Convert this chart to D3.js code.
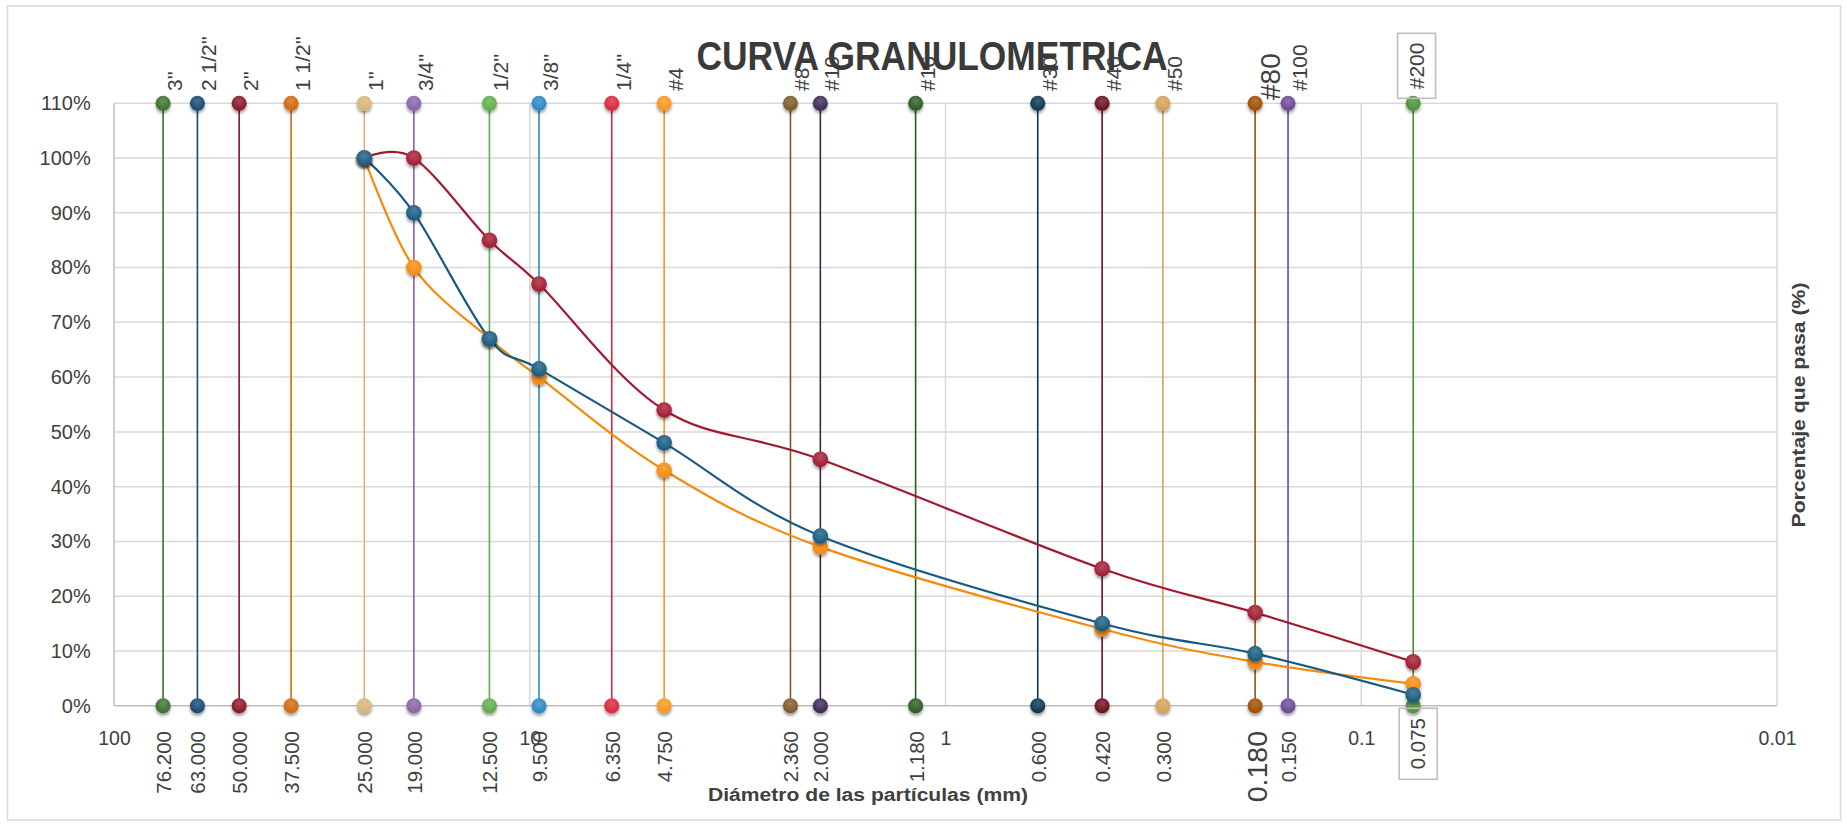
<!DOCTYPE html>
<html>
<head>
<meta charset="utf-8">
<script src="https://cdn.jsdelivr.net/npm/d3@7"></script>
<style>
  body { margin: 0; background: #fff; }
  svg { display: block; }
</style>
</head>
<body>
<svg id="chart" width="1847" height="825"></svg>
<script>
// ---------- DATA ----------
const sieveNames = ["3''", "2 1/2''", "2''", "1 1/2''", "1''", "3/4''", "1/2''", "3/8''", "1/4''", "#4", "#8", "#10", "#16", "#30", "#40", "#50", "#80", "#100", "#200"];
const sieveSizes = [76.2, 63.0, 50.0, 37.5, 25.0, 19.0, 12.5, 9.5, 6.35, 4.75, 2.36, 2.0, 1.18, 0.6, 0.42, 0.3, 0.18, 0.15, 0.075];
const sieveColors = ["#3e6f2e", "#164a70", "#8a1526", "#d0680c", "#d8b47a", "#8862a8", "#5dae4b", "#2b86c4", "#d9263e", "#f7961f", "#7b5a25", "#3b2953", "#2d5a23", "#0d3451", "#6d101d", "#d4a257", "#a04e06", "#6b4a95", "#4a9339"];
const xTickValues = [100, 10, 1, 0.1, 0.01];
const yTickValues = [0, 10, 20, 30, 40, 50, 60, 70, 80, 90, 100, 110];

const seriesSizes = [25.0, 19.0, 12.5, 9.5, 4.75, 2.0, 0.42, 0.18, 0.075];
const redValues = [100, 100, 85, 77, 54, 45, 25, 17, 8];
const orangeValues = [100, 80, 67, 60, 43, 29, 14, 8, 4];
const blueValues = [100, 90, 67, 61.5, 48, 31, 15, 9.5, 2];

const titleText = "CURVA GRANULOMETRICA";
const xTitle = "Diámetro de las partículas (mm)";
const yTitle = "Porcentaje que pasa (%)";

// ---------- LAYOUT ----------
const pLeft = 114, pRight = 1777, pTop = 103.3, pBottom = 705.7;
const svg = d3.select("#chart");
const x = d3.scaleLog().domain([100, 0.01]).range([pLeft, pRight]);
const y = d3.scaleLinear().domain([0, 110]).range([pBottom, pTop]);

const defs = svg.append("defs");
const f = defs.append("filter").attr("id", "sh").attr("x", "-50%").attr("y", "-50%").attr("width", "200%").attr("height", "220%");
f.append("feDropShadow").attr("dx", 0).attr("dy", 2.5).attr("stdDeviation", 1.8)
  .attr("flood-color", "#000").attr("flood-opacity", 0.4);
const g = defs.append("radialGradient").attr("id", "hl").attr("cx", "50%").attr("cy", "35%").attr("r", "60%");
g.append("stop").attr("offset", "0%").attr("stop-color", "#fff").attr("stop-opacity", 0.22);
g.append("stop").attr("offset", "100%").attr("stop-color", "#fff").attr("stop-opacity", 0);

// outer border
svg.append("rect").attr("x", 7.5).attr("y", 6).attr("width", 1833).attr("height", 814)
  .attr("fill", "#fff").attr("stroke", "#d9d9d9").attr("stroke-width", 1.5);

// gridlines
svg.append("g").selectAll("line").data(yTickValues.filter(d => d > 0)).join("line")
  .attr("x1", pLeft).attr("x2", pRight).attr("y1", d => y(d)).attr("y2", d => y(d))
  .attr("stroke", "#d9d9d9").attr("stroke-width", 1.5);
svg.append("g").selectAll("line").data(xTickValues.filter(d => d < 100)).join("line")
  .attr("x1", d => x(d)).attr("x2", d => x(d)).attr("y1", pTop).attr("y2", pBottom)
  .attr("stroke", "#d9d9d9").attr("stroke-width", 1.5);

// axis lines
svg.append("line").attr("x1", pLeft).attr("x2", pLeft).attr("y1", pTop).attr("y2", pBottom)
  .attr("stroke", "#bfbfbf").attr("stroke-width", 1.5);
svg.append("line").attr("x1", pLeft).attr("x2", pRight).attr("y1", pBottom).attr("y2", pBottom)
  .attr("stroke", "#bfbfbf").attr("stroke-width", 1.5);

// y axis labels
const yAxis = svg.append("g").attr("transform", `translate(${pLeft},0)`)
  .call(d3.axisLeft(y).tickValues(yTickValues).tickFormat(d => d + "%").tickSize(0).tickPadding(23.3));
yAxis.select(".domain").remove();
yAxis.selectAll("text").attr("font-family", "Liberation Sans, Arial, sans-serif").attr("font-size", 20).attr("fill", "#404040");

// x axis labels
const xAxis = svg.append("g").attr("transform", `translate(0,${pBottom})`)
  .call(d3.axisBottom(x).tickValues(xTickValues).tickFormat(d => d3.format("~g")(d)).tickSize(0).tickPadding(25.5));
xAxis.select(".domain").remove();
xAxis.selectAll("text").attr("font-family", "Liberation Sans, Arial, sans-serif").attr("font-size", 19.5).attr("fill", "#404040");

// sieve vertical lines
const sieves = sieveSizes.map((s, i) => ({ s, name: sieveNames[i], color: sieveColors[i], i }));
const sg = svg.append("g");
sg.selectAll("line").data(sieves).join("line")
  .attr("x1", d => x(d.s)).attr("x2", d => x(d.s)).attr("y1", y(110)).attr("y2", y(0))
  .attr("stroke", d => d.color).attr("stroke-width", 1.6);
[0, 110].forEach(v => {
  const dg = sg.append("g");
  dg.selectAll("circle.m").data(sieves).join("circle").attr("class", "m")
    .attr("cx", d => x(d.s)).attr("cy", y(v)).attr("r", 7.5)
    .attr("fill", d => d.color).attr("filter", "url(#sh)");
  dg.selectAll("circle.h").data(sieves).join("circle").attr("class", "h")
    .attr("cx", d => x(d.s)).attr("cy", y(v)).attr("r", 7.5).attr("fill", "url(#hl)");
});

// top labels (sieve names)
const lblFont = "Liberation Sans, Arial, sans-serif";
const last = sieves.length - 1;
const big = 16;
sieves.forEach(d => {
  const cx = x(d.s);
  if (d.i === last) {
    svg.append("text").attr("font-family", lblFont).attr("font-size", 21).attr("fill", "#404040")
      .attr("text-anchor", "start").attr("dominant-baseline", "central")
      .attr("transform", `translate(${cx + 3.4},89.3) rotate(-90)`).text(d.name);
    svg.append("rect").attr("x", cx - 15.6).attr("y", 33.3).attr("width", 38).attr("height", 65)
      .attr("fill", "none").attr("stroke", "#bfbfbf").attr("stroke-width", 1.6);
  } else {
    const fs = d.i === big ? 28 : 21;
    svg.append("text").attr("font-family", lblFont).attr("font-size", fs).attr("fill", "#404040")
      .attr("text-anchor", "start").attr("dominant-baseline", "central")
      .attr("transform", `translate(${cx + (d.i === big ? 15 : 11.5)},${d.i === big ? 100 : 91}) rotate(-90)`).text(d.name);
  }
});

// bottom labels (sizes)
sieves.forEach(d => {
  const cx = x(d.s);
  if (d.i === last) {
    svg.append("text").attr("font-family", lblFont).attr("font-size", 20.5).attr("fill", "#404040")
      .attr("text-anchor", "end").attr("dominant-baseline", "central")
      .attr("transform", `translate(${cx + 4.5},718) rotate(-90)`).text(d.s.toFixed(3));
    svg.append("rect").attr("x", cx - 14).attr("y", 708.3).attr("width", 38).attr("height", 71)
      .attr("fill", "none").attr("stroke", "#bfbfbf").attr("stroke-width", 1.6);
  } else {
    const fs = d.i === big ? 28.5 : 20.5;
    svg.append("text").attr("font-family", lblFont).attr("font-size", fs).attr("fill", "#404040")
      .attr("text-anchor", "end").attr("dominant-baseline", "central")
      .attr("transform", `translate(${cx + (d.i === big ? 1.5 : 0.5)},731) rotate(-90)`).text(d.s.toFixed(3));
  }
});

// data series
const line = d3.line().x(d => x(d[0])).y(d => y(d[1])).curve(d3.curveCatmullRom.alpha(0));
const seriesList = [
  { vals: redValues, color: "#a21a31" },
  { vals: orangeValues, color: "#f58a0c" },
  { vals: blueValues, color: "#175b82" }
];
seriesList.forEach(se => {
  const pts = seriesSizes.map((s, i) => [s, se.vals[i]]);
  svg.append("path").attr("d", line(pts)).attr("fill", "none")
    .attr("stroke", se.color).attr("stroke-width", 2.2);
});
seriesList.forEach(se => {
  const pts = seriesSizes.map((s, i) => [s, se.vals[i]]);
  const gg = svg.append("g");
  gg.selectAll("circle.m").data(pts).join("circle").attr("class", "m")
    .attr("cx", d => x(d[0])).attr("cy", d => y(d[1])).attr("r", 7.8)
    .attr("fill", se.color).attr("filter", "url(#sh)");
  gg.selectAll("circle.h").data(pts).join("circle").attr("class", "h")
    .attr("cx", d => x(d[0])).attr("cy", d => y(d[1])).attr("r", 7.8).attr("fill", "url(#hl)");
});

// titles
svg.append("text").attr("x", 932).attr("y", 70).attr("text-anchor", "middle")
  .attr("font-family", "Liberation Sans, Arial, sans-serif").attr("font-weight", "bold")
  .attr("font-size", 40).attr("fill", "#3a3a3a")
  .attr("textLength", 471).attr("lengthAdjust", "spacingAndGlyphs").text(titleText);

svg.append("text").attr("x", 868).attr("y", 795).attr("text-anchor", "middle").attr("dominant-baseline", "central")
  .attr("font-family", "Liberation Sans, Arial, sans-serif").attr("font-weight", "bold")
  .attr("font-size", 18).attr("fill", "#404040")
  .attr("textLength", 320).attr("lengthAdjust", "spacingAndGlyphs").text(xTitle);

svg.append("text").attr("text-anchor", "middle").attr("dominant-baseline", "central")
  .attr("transform", "translate(1799,405) rotate(-90)")
  .attr("font-family", "Liberation Sans, Arial, sans-serif").attr("font-weight", "bold")
  .attr("font-size", 18).attr("fill", "#404040")
  .attr("textLength", 245).attr("lengthAdjust", "spacingAndGlyphs").text(yTitle);
</script>
</body>
</html>
